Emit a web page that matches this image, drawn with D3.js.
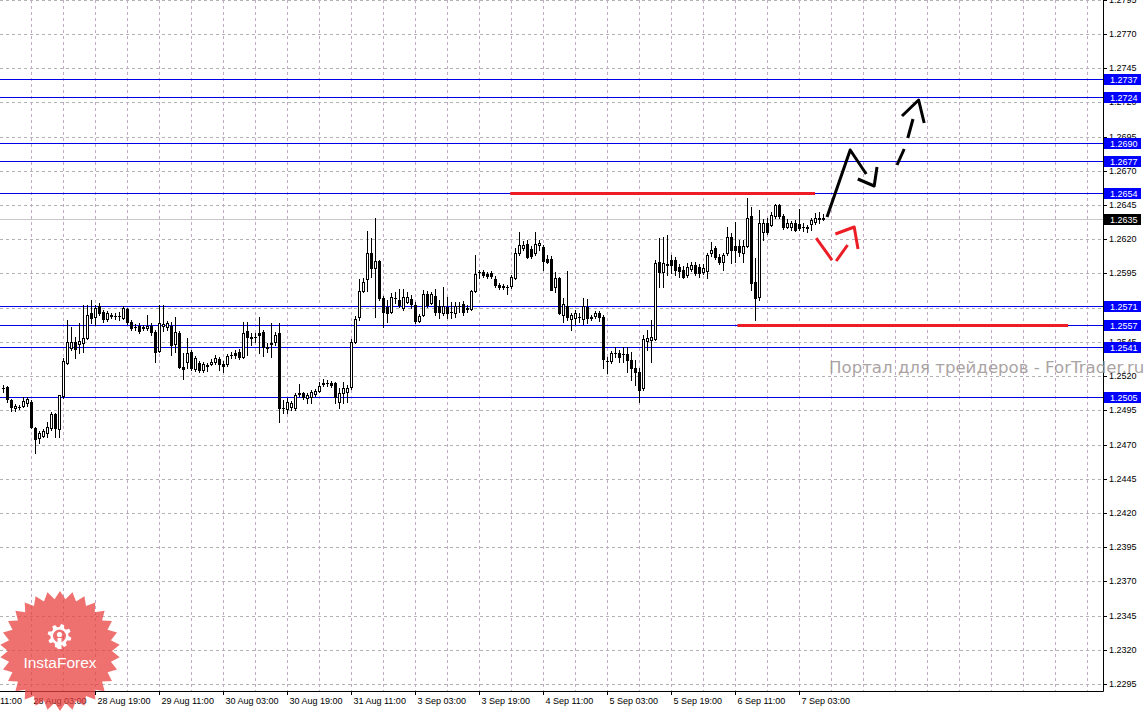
<!DOCTYPE html>
<html lang="ru">
<head>
<meta charset="utf-8">
<title>GBPUSD H1</title>
<script src="https://cdn.jsdelivr.net/npm/d3@7/dist/d3.min.js"></script>
<style>
  html, body { margin: 0; padding: 0; background: #ffffff; }
  #chart svg { display: block; font-family: "Liberation Sans", Arial, sans-serif; }
</style>
</head>
<body>
<div id="chart"></div>
<script>
// H1 bars, 27 Aug 20:00 .. 7 Sep 10:00 (one value per bar)
const open = [
  1.25112, 1.25119, 1.25024, 1.24966, 1.24973, 1.24980, 1.25002, 1.25009, 1.24819, 1.24746,
  1.24761, 1.24783, 1.24819, 1.24922, 1.24812, 1.25053, 1.25294, 1.25404, 1.25448, 1.25433,
  1.25441, 1.25477, 1.25660, 1.25631, 1.25711, 1.25667, 1.25616, 1.25638, 1.25638, 1.25638,
  1.25623, 1.25689, 1.25594, 1.25558, 1.25565, 1.25550, 1.25550, 1.25565, 1.25521, 1.25382,
  1.25565, 1.25558, 1.25565, 1.25433, 1.25514, 1.25265, 1.25302, 1.25375, 1.25251, 1.25294,
  1.25243, 1.25273, 1.25287, 1.25302, 1.25324, 1.25287, 1.25287, 1.25353, 1.25367, 1.25375,
  1.25338, 1.25528, 1.25484, 1.25484, 1.25514, 1.25521, 1.25411, 1.25433, 1.25448, 1.25514,
  1.24966, 1.24958, 1.24973, 1.24966, 1.25068, 1.25075, 1.25039, 1.25046, 1.25068, 1.25090,
  1.25141, 1.25148, 1.25148, 1.25148, 1.25009, 1.25075, 1.25082, 1.25119, 1.25448, 1.25631,
  1.25821, 1.25909, 1.26099, 1.25989, 1.26040, 1.25770, 1.25704, 1.25667, 1.25770, 1.25755,
  1.25696, 1.25740, 1.25762, 1.25718, 1.25601, 1.25645, 1.25799, 1.25733, 1.25784, 1.25711,
  1.25660, 1.25704, 1.25667, 1.25660, 1.25711, 1.25726, 1.25689, 1.25689, 1.25821, 1.25960,
  1.25960, 1.25945, 1.25952, 1.25909, 1.25865, 1.25857, 1.25850, 1.25857, 1.25916, 1.26099,
  1.26135, 1.26164, 1.26128, 1.26099, 1.26157, 1.26142, 1.26055, 1.26055, 1.25850, 1.25916,
  1.25645, 1.25711, 1.25616, 1.25623, 1.25631, 1.25616, 1.25704, 1.25623, 1.25638, 1.25660,
  1.25631, 1.25309, 1.25309, 1.25367, 1.25367, 1.25360, 1.25360, 1.25317, 1.25258, 1.25229,
  1.25112, 1.25455, 1.25463, 1.25470, 1.26033, 1.25960, 1.26011, 1.26047, 1.26047, 1.25996,
  1.25974, 1.25938, 1.25982, 1.26011, 1.25996, 1.25960, 1.25967, 1.26099, 1.26135, 1.26069,
  1.26033, 1.26099, 1.26216, 1.26150, 1.26150, 1.26099, 1.26150, 1.26369, 1.25887, 1.25777,
  1.26252, 1.26318, 1.26303, 1.26369, 1.26449, 1.26369, 1.26289, 1.26289, 1.26318, 1.26311,
  1.26289, 1.26281, 1.26311, 1.26325, 1.26347, 1.26354,
];
const high = [
  1.25134, 1.25126, 1.25031, 1.24995, 1.24987, 1.25046, 1.25046, 1.25024, 1.24827, 1.24797,
  1.24812, 1.24863, 1.24936, 1.24929, 1.25060, 1.25331, 1.25609, 1.25558, 1.25484, 1.25587,
  1.25718, 1.25718, 1.25755, 1.25718, 1.25733, 1.25682, 1.25674, 1.25660, 1.25660, 1.25667,
  1.25711, 1.25696, 1.25609, 1.25579, 1.25587, 1.25572, 1.25645, 1.25587, 1.25536, 1.25718,
  1.25718, 1.25601, 1.25594, 1.25631, 1.25528, 1.25367, 1.25477, 1.25389, 1.25346, 1.25309,
  1.25302, 1.25294, 1.25324, 1.25353, 1.25338, 1.25309, 1.25360, 1.25375, 1.25389, 1.25397,
  1.25594, 1.25594, 1.25514, 1.25514, 1.25631, 1.25536, 1.25441, 1.25587, 1.25521, 1.25587,
  1.25024, 1.25039, 1.25017, 1.25075, 1.25141, 1.25082, 1.25075, 1.25097, 1.25104, 1.25156,
  1.25177, 1.25170, 1.25163, 1.25156, 1.25112, 1.25156, 1.25134, 1.25470, 1.25638, 1.25909,
  1.25916, 1.26259, 1.26208, 1.26354, 1.26047, 1.25784, 1.25755, 1.25806, 1.25813, 1.25835,
  1.25835, 1.25813, 1.25792, 1.25740, 1.25653, 1.25828, 1.25821, 1.25813, 1.25835, 1.25755,
  1.25850, 1.25777, 1.25740, 1.25740, 1.25740, 1.25748, 1.25718, 1.25828, 1.26084, 1.25974,
  1.25974, 1.25960, 1.25967, 1.25930, 1.25879, 1.25872, 1.25865, 1.25938, 1.26135, 1.26252,
  1.26186, 1.26194, 1.26150, 1.26252, 1.26194, 1.26157, 1.26084, 1.26077, 1.25960, 1.25923,
  1.25770, 1.25967, 1.25660, 1.25682, 1.25660, 1.25770, 1.25762, 1.25645, 1.25674, 1.25674,
  1.25645, 1.25338, 1.25382, 1.25411, 1.25389, 1.25411, 1.25411, 1.25375, 1.25317, 1.25258,
  1.25499, 1.25536, 1.25609, 1.26047, 1.26208, 1.26216, 1.26230, 1.26084, 1.26069, 1.26018,
  1.26004, 1.26025, 1.26033, 1.26033, 1.26018, 1.26018, 1.26099, 1.26179, 1.26150, 1.26091,
  1.26099, 1.26289, 1.26245, 1.26325, 1.26194, 1.26194, 1.26501, 1.26435, 1.26062, 1.26413,
  1.26347, 1.26354, 1.26398, 1.26457, 1.26457, 1.26384, 1.26347, 1.26332, 1.26340, 1.26420,
  1.26318, 1.26303, 1.26354, 1.26391, 1.26398, 1.26384,
];
const low = [
  1.25082, 1.25009, 1.24944, 1.24944, 1.24958, 1.24973, 1.24980, 1.24819, 1.24637, 1.24710,
  1.24754, 1.24754, 1.24805, 1.24754, 1.24754, 1.25039, 1.25287, 1.25389, 1.25331, 1.25367,
  1.25375, 1.25470, 1.25587, 1.25572, 1.25645, 1.25594, 1.25601, 1.25623, 1.25616, 1.25609,
  1.25616, 1.25579, 1.25536, 1.25536, 1.25514, 1.25536, 1.25536, 1.25499, 1.25302, 1.25375,
  1.25528, 1.25536, 1.25353, 1.25375, 1.25258, 1.25177, 1.25258, 1.25243, 1.25236, 1.25229,
  1.25229, 1.25236, 1.25280, 1.25287, 1.25243, 1.25229, 1.25273, 1.25331, 1.25331, 1.25324,
  1.25331, 1.25353, 1.25426, 1.25448, 1.25367, 1.25346, 1.25375, 1.25338, 1.25426, 1.24863,
  1.24929, 1.24929, 1.24951, 1.24951, 1.25053, 1.25031, 1.25002, 1.25002, 1.25053, 1.25082,
  1.25126, 1.25126, 1.25119, 1.25002, 1.24966, 1.25002, 1.25009, 1.25104, 1.25441, 1.25609,
  1.25813, 1.25821, 1.25923, 1.25631, 1.25755, 1.25558, 1.25594, 1.25660, 1.25733, 1.25704,
  1.25682, 1.25733, 1.25696, 1.25587, 1.25594, 1.25638, 1.25704, 1.25726, 1.25645, 1.25623,
  1.25645, 1.25623, 1.25623, 1.25631, 1.25667, 1.25645, 1.25667, 1.25682, 1.25813, 1.25916,
  1.25923, 1.25916, 1.25916, 1.25850, 1.25835, 1.25835, 1.25799, 1.25843, 1.25909, 1.26084,
  1.26120, 1.26062, 1.26062, 1.26084, 1.26120, 1.25974, 1.26025, 1.25828, 1.25813, 1.25653,
  1.25594, 1.25609, 1.25536, 1.25579, 1.25594, 1.25579, 1.25587, 1.25609, 1.25623, 1.25601,
  1.25258, 1.25221, 1.25294, 1.25338, 1.25302, 1.25302, 1.25229, 1.25170, 1.25134, 1.25009,
  1.25097, 1.25389, 1.25302, 1.25463, 1.25850, 1.25850, 1.25938, 1.25952, 1.25938, 1.25923,
  1.25916, 1.25923, 1.25967, 1.25938, 1.25923, 1.25945, 1.25916, 1.26077, 1.26055, 1.26018,
  1.25974, 1.26084, 1.26025, 1.26033, 1.26077, 1.26033, 1.26142, 1.25828, 1.25609, 1.25755,
  1.26194, 1.26237, 1.26296, 1.26354, 1.26354, 1.26274, 1.26281, 1.26267, 1.26259, 1.26267,
  1.26259, 1.26252, 1.26267, 1.26311, 1.26318, 1.26340,
];
const close = [
  1.25112, 1.25031, 1.24973, 1.24980, 1.24973, 1.25017, 1.25031, 1.24827, 1.24739, 1.24783,
  1.24797, 1.24827, 1.24922, 1.24819, 1.25060, 1.25309, 1.25448, 1.25448, 1.25397, 1.25455,
  1.25477, 1.25645, 1.25623, 1.25696, 1.25660, 1.25616, 1.25660, 1.25645, 1.25638, 1.25638,
  1.25696, 1.25594, 1.25550, 1.25558, 1.25528, 1.25558, 1.25565, 1.25521, 1.25375, 1.25587,
  1.25579, 1.25587, 1.25426, 1.25521, 1.25265, 1.25251, 1.25367, 1.25258, 1.25331, 1.25243,
  1.25287, 1.25280, 1.25302, 1.25331, 1.25287, 1.25273, 1.25346, 1.25353, 1.25353, 1.25338,
  1.25514, 1.25484, 1.25477, 1.25484, 1.25499, 1.25411, 1.25404, 1.25441, 1.25499, 1.24966,
  1.24966, 1.25009, 1.25002, 1.25060, 1.25075, 1.25046, 1.25060, 1.25082, 1.25090, 1.25126,
  1.25148, 1.25148, 1.25134, 1.25046, 1.25075, 1.25112, 1.25112, 1.25448, 1.25616, 1.25821,
  1.25887, 1.26099, 1.25989, 1.26040, 1.25770, 1.25667, 1.25660, 1.25777, 1.25770, 1.25718,
  1.25777, 1.25777, 1.25726, 1.25601, 1.25638, 1.25799, 1.25718, 1.25799, 1.25667, 1.25667,
  1.25711, 1.25660, 1.25667, 1.25711, 1.25711, 1.25667, 1.25696, 1.25821, 1.25945, 1.25960,
  1.25938, 1.25930, 1.25930, 1.25865, 1.25850, 1.25850, 1.25850, 1.25923, 1.26099, 1.26157,
  1.26157, 1.26069, 1.26077, 1.26164, 1.26172, 1.26040, 1.26033, 1.25828, 1.25916, 1.25660,
  1.25726, 1.25631, 1.25645, 1.25660, 1.25631, 1.25711, 1.25623, 1.25631, 1.25660, 1.25631,
  1.25324, 1.25309, 1.25367, 1.25367, 1.25338, 1.25360, 1.25317, 1.25258, 1.25229, 1.25097,
  1.25470, 1.25477, 1.25484, 1.26025, 1.25960, 1.26025, 1.26018, 1.26011, 1.25974, 1.25967,
  1.25923, 1.25996, 1.26011, 1.25952, 1.25952, 1.25989, 1.26084, 1.26120, 1.26069, 1.26033,
  1.26084, 1.26216, 1.26120, 1.26120, 1.26106, 1.26150, 1.26354, 1.25879, 1.25770, 1.26318,
  1.26318, 1.26252, 1.26376, 1.26449, 1.26369, 1.26289, 1.26318, 1.26318, 1.26267, 1.26281,
  1.26289, 1.26289, 1.26340, 1.26354, 1.26354, 1.26350,
];

const priceTicks = [
  "1.2295", "1.2320", "1.2345", "1.2370", "1.2395", "1.2420", "1.2445",
  "1.2470", "1.2495", "1.2520", "1.2545", "1.2570", "1.2595", "1.2620",
  "1.2645", "1.2670", "1.2695", "1.2720", "1.2745", "1.2770", "1.2795",
];
const timeLabels = [
  "27 Aug 11:00", "28 Aug 03:00", "28 Aug 19:00", "29 Aug 11:00", "30 Aug 03:00",
  "30 Aug 19:00", "31 Aug 11:00", "3 Sep 03:00", "3 Sep 19:00", "4 Sep 11:00",
  "5 Sep 03:00", "5 Sep 19:00", "6 Sep 11:00", "7 Sep 03:00",
];
const firstLabelBar = -9; // bar index of the first time label
const barsPerLabel = 16;
const barsPerGrid = 8;

// horizontal levels (blue) and current bid
const levels = [1.2737, 1.2724, 1.269, 1.2677, 1.2654, 1.2571, 1.2557, 1.2541, 1.2505];
const bid = 1.2635;

// hand-drawn marks: [bar index, price]
const redLevels = [
  { price: 1.2654, from: 126.8, to: 203 },
  { price: 1.2557, from: 183.6, to: 266.3 },
];
const blackStrokes = [
  [[206.0, 1.2636], [211.8, 1.2685], [215.8, 1.2668]],
  [[213.7, 1.2664], [217.8, 1.2659], [218.5, 1.2673]],
  [[223.5, 1.2674], [225.3, 1.2686]],
  [[226.2, 1.2694], [227.5, 1.2708]],
  [[224.75, 1.271], [228.9, 1.2722], [230.3, 1.2705]],
];
const redStrokes = [
  [[203.3, 1.2621], [207.25, 1.2605]],
  [[208.3, 1.2604], [211.15, 1.2616]],
  [[208.1, 1.2624], [212.8, 1.2629], [213.75, 1.2613]],
];

const width = 1146;
const height = 711;
const plotRight = 1103;
const plotBottom = 691;

const x = d3.scaleLinear().domain([0, 205]).range([3, 823]);
const y = d3.scaleLinear().domain([1.2295, 1.277]).rangeRound([684, 34]);

const svg = d3
  .select("#chart")
  .append("svg")
  .attr("width", width)
  .attr("height", height)
  .attr("viewBox", [0, 0, width, height]);

svg.append("rect").attr("width", width).attr("height", height).attr("fill", "#fff");

renderGrid();
renderLevels();
renderCandles();
renderDrawings();
renderAxes();
renderPriceBoxes();
renderWatermark();
renderBadge();

function renderGrid() {
  const g = svg.append("g").attr("class", "grid").attr("stroke-dasharray", "3,3");

  g.selectAll(".grid-h")
    .data(priceTicks.map(Number))
    .join("line")
    .attr("class", "grid-h")
    .attr("x1", 0)
    .attr("x2", plotRight)
    .attr("y1", (d) => y(d) + 0.5)
    .attr("y2", (d) => y(d) + 0.5)
    .attr("stroke", "#b2b2b2");

  const gridBars = d3
    .range(-2, 40)
    .map((k) => firstLabelBar + barsPerGrid * k)
    .filter((b) => x(b) > 0 && x(b) < plotRight);

  g.selectAll(".grid-v")
    .data(gridBars)
    .join("line")
    .attr("class", "grid-v")
    .attr("x1", (d) => x(d) + 0.5)
    .attr("x2", (d) => x(d) + 0.5)
    .attr("y1", 0)
    .attr("y2", plotBottom)
    .attr("stroke", "#c2a9c6");
}

function renderLevels() {
  svg
    .append("line")
    .attr("x1", 0)
    .attr("x2", plotRight)
    .attr("y1", y(bid) + 0.5)
    .attr("y2", y(bid) + 0.5)
    .attr("stroke", "#c8c8c8");

  svg
    .append("g")
    .attr("class", "levels")
    .selectAll("line")
    .data(levels)
    .join("line")
    .attr("x1", 0)
    .attr("x2", plotRight)
    .attr("y1", (d) => y(d) + 0.5)
    .attr("y2", (d) => y(d) + 0.5)
    .attr("stroke", "#0000e6");
}

function renderCandles() {
  const bars = open.map((o, i) => ({
    i,
    o,
    c: close[i],
    h: Math.max(high[i], o, close[i]),
    l: Math.min(low[i], o, close[i]),
  }));

  const bar = svg
    .append("g")
    .attr("class", "candles")
    .selectAll("g")
    .data(bars)
    .join("g");

  bar
    .append("line")
    .attr("x1", (d) => x(d.i) + 0.5)
    .attr("x2", (d) => x(d.i) + 0.5)
    .attr("y1", (d) => y(d.h))
    .attr("y2", (d) => y(d.l) + 1)
    .attr("stroke", "#000");

  bar
    .filter((d) => y(d.o) !== y(d.c))
    .append("rect")
    .attr("x", (d) => x(d.i) - 0.5)
    .attr("width", 2)
    .attr("y", (d) => Math.min(y(d.o), y(d.c)) + 0.5)
    .attr("height", (d) => Math.abs(y(d.o) - y(d.c)))
    .attr("fill", (d) => (d.c < d.o ? "#000" : "#fff"))
    .attr("stroke", "#000");

  bar
    .filter((d) => y(d.o) === y(d.c))
    .append("line")
    .attr("x1", (d) => x(d.i) - 1)
    .attr("x2", (d) => x(d.i) + 2)
    .attr("y1", (d) => y(d.o) + 0.5)
    .attr("y2", (d) => y(d.o) + 0.5)
    .attr("stroke", "#000");
}

function renderDrawings() {
  const line = d3
    .line()
    .x((d) => x(d[0]))
    .y((d) => y(d[1]));

  svg
    .append("g")
    .attr("class", "red-levels")
    .selectAll("line")
    .data(redLevels)
    .join("line")
    .attr("x1", (d) => x(d.from))
    .attr("x2", (d) => x(d.to))
    .attr("y1", (d) => y(d.price) + 0.5)
    .attr("y2", (d) => y(d.price) + 0.5)
    .attr("stroke", "#ec1d25")
    .attr("stroke-width", 3);

  svg
    .append("g")
    .attr("class", "red-strokes")
    .selectAll("path")
    .data(redStrokes)
    .join("path")
    .attr("d", line)
    .attr("fill", "none")
    .attr("stroke", "#ec1d25")
    .attr("stroke-width", 3)
    .attr("stroke-linejoin", "round");

  svg
    .append("g")
    .attr("class", "black-strokes")
    .selectAll("path")
    .data(blackStrokes)
    .join("path")
    .attr("d", line)
    .attr("fill", "none")
    .attr("stroke", "#000")
    .attr("stroke-width", 3)
    .attr("stroke-linejoin", "round");
}

function renderAxes() {
  const gy = svg
    .append("g")
    .attr("class", "axis-y")
    .attr("transform", `translate(${plotRight},0)`)
    .call(
      d3
        .axisRight(y)
        .tickValues(priceTicks.map(Number))
        .tickFormat(d3.format(".4f"))
        .tickSize(4)
        .tickPadding(2),
    );
  gy.select(".domain").remove();

  const labelBars = timeLabels.map((_, k) => firstLabelBar + barsPerLabel * k);
  const gx = svg
    .append("g")
    .attr("class", "axis-x")
    .attr("transform", `translate(0,${plotBottom})`)
    .call(
      d3
        .axisBottom(x)
        .tickValues(labelBars)
        .tickFormat((d, k) => timeLabels[k])
        .tickSize(4)
        .tickPadding(3),
    );
  gx.select(".domain").remove();
  gx.selectAll("text").attr("x", 2).attr("text-anchor", "start");

  svg
    .selectAll(".axis-x, .axis-y")
    .attr("font-family", "'Liberation Sans', Arial, sans-serif")
    .attr("font-size", 9)
    .selectAll("text")
    .attr("fill", "#000");

  svg
    .append("path")
    .attr("d", `M${plotRight + 0.5},0V${plotBottom + 0.5}H0`)
    .attr("fill", "none")
    .attr("stroke", "#000");
}

function renderPriceBoxes() {
  const boxes = levels
    .map((p) => ({ p, fill: "#0000ff" }))
    .concat([{ p: bid, fill: "#000" }]);

  const box = svg
    .append("g")
    .attr("class", "price-boxes")
    .selectAll("g")
    .data(boxes)
    .join("g")
    .attr("transform", (d) => `translate(${plotRight + 1},${y(d.p)})`);

  box
    .append("rect")
    .attr("x", 0)
    .attr("y", -5)
    .attr("width", 37)
    .attr("height", 11)
    .attr("fill", (d) => d.fill);

  box
    .append("text")
    .attr("x", 6)
    .attr("y", 4)
    .attr("font-size", 9)
    .attr("fill", "#fff")
    .text((d) => d3.format(".4f")(d.p));
}

function renderWatermark() {
  svg
    .append("text")
    .attr("x", 829)
    .attr("y", 373)
    .attr("font-family", "'DejaVu Sans', sans-serif")
    .attr("font-size", 16.6)
    .attr("fill", "#9c9494")
    .attr("opacity", 0.85)
    .text("Портал для трейдеров - ForTrader.ru");
}

function renderBadge() {
  const cx = 60;
  const cy = 651;
  const g = svg.append("g").attr("class", "badge");

  const n = 30;
  const star = d3.range(n * 2).map((k) => {
    const a = (Math.PI * k) / n - Math.PI / 2;
    const r = k % 2 ? 52 : 60;
    return [cx + r * Math.cos(a), cy + r * Math.sin(a)];
  });
  g.append("path")
    .attr("d", d3.line()(star) + "Z")
    .attr("fill", "#e8403f")
    .attr("opacity", 0.75);

  // gear with a figure inside
  const gx = 59.5;
  const gy = 636;
  const teeth = 8;
  const step = (2 * Math.PI) / teeth;
  const gear = [];
  for (let k = 0; k < teeth; k++) {
    const a = step * k;
    gear.push([a, 9], [a + step * 0.18, 12], [a + step * 0.5, 12], [a + step * 0.68, 9]);
  }
  const gearPts = gear.map(([a, r]) => [gx + r * Math.cos(a), gy + r * Math.sin(a)]);
  const hole = 6.5;
  g.append("path")
    .attr(
      "d",
      d3.line()(gearPts) +
        `Z M${gx + hole},${gy} A${hole},${hole} 0 1 0 ${gx - hole},${gy} A${hole},${hole} 0 1 0 ${gx + hole},${gy}Z`,
    )
    .attr("fill", "#fff")
    .attr("fill-rule", "evenodd");
  g.append("circle").attr("cx", gx).attr("cy", gy - 1.5).attr("r", 2.6).attr("fill", "#fff");
  g.append("rect")
    .attr("x", gx - 2)
    .attr("y", gy + 2)
    .attr("width", 4)
    .attr("height", 11)
    .attr("fill", "#fff");

  g.append("text")
    .attr("x", cx)
    .attr("y", 668)
    .attr("text-anchor", "middle")
    .attr("font-family", "'Liberation Sans', Arial, sans-serif")
    .attr("font-size", 15.5)
    .attr("fill", "#fff")
    .text("InstaForex");
}
</script>
</body>
</html>
